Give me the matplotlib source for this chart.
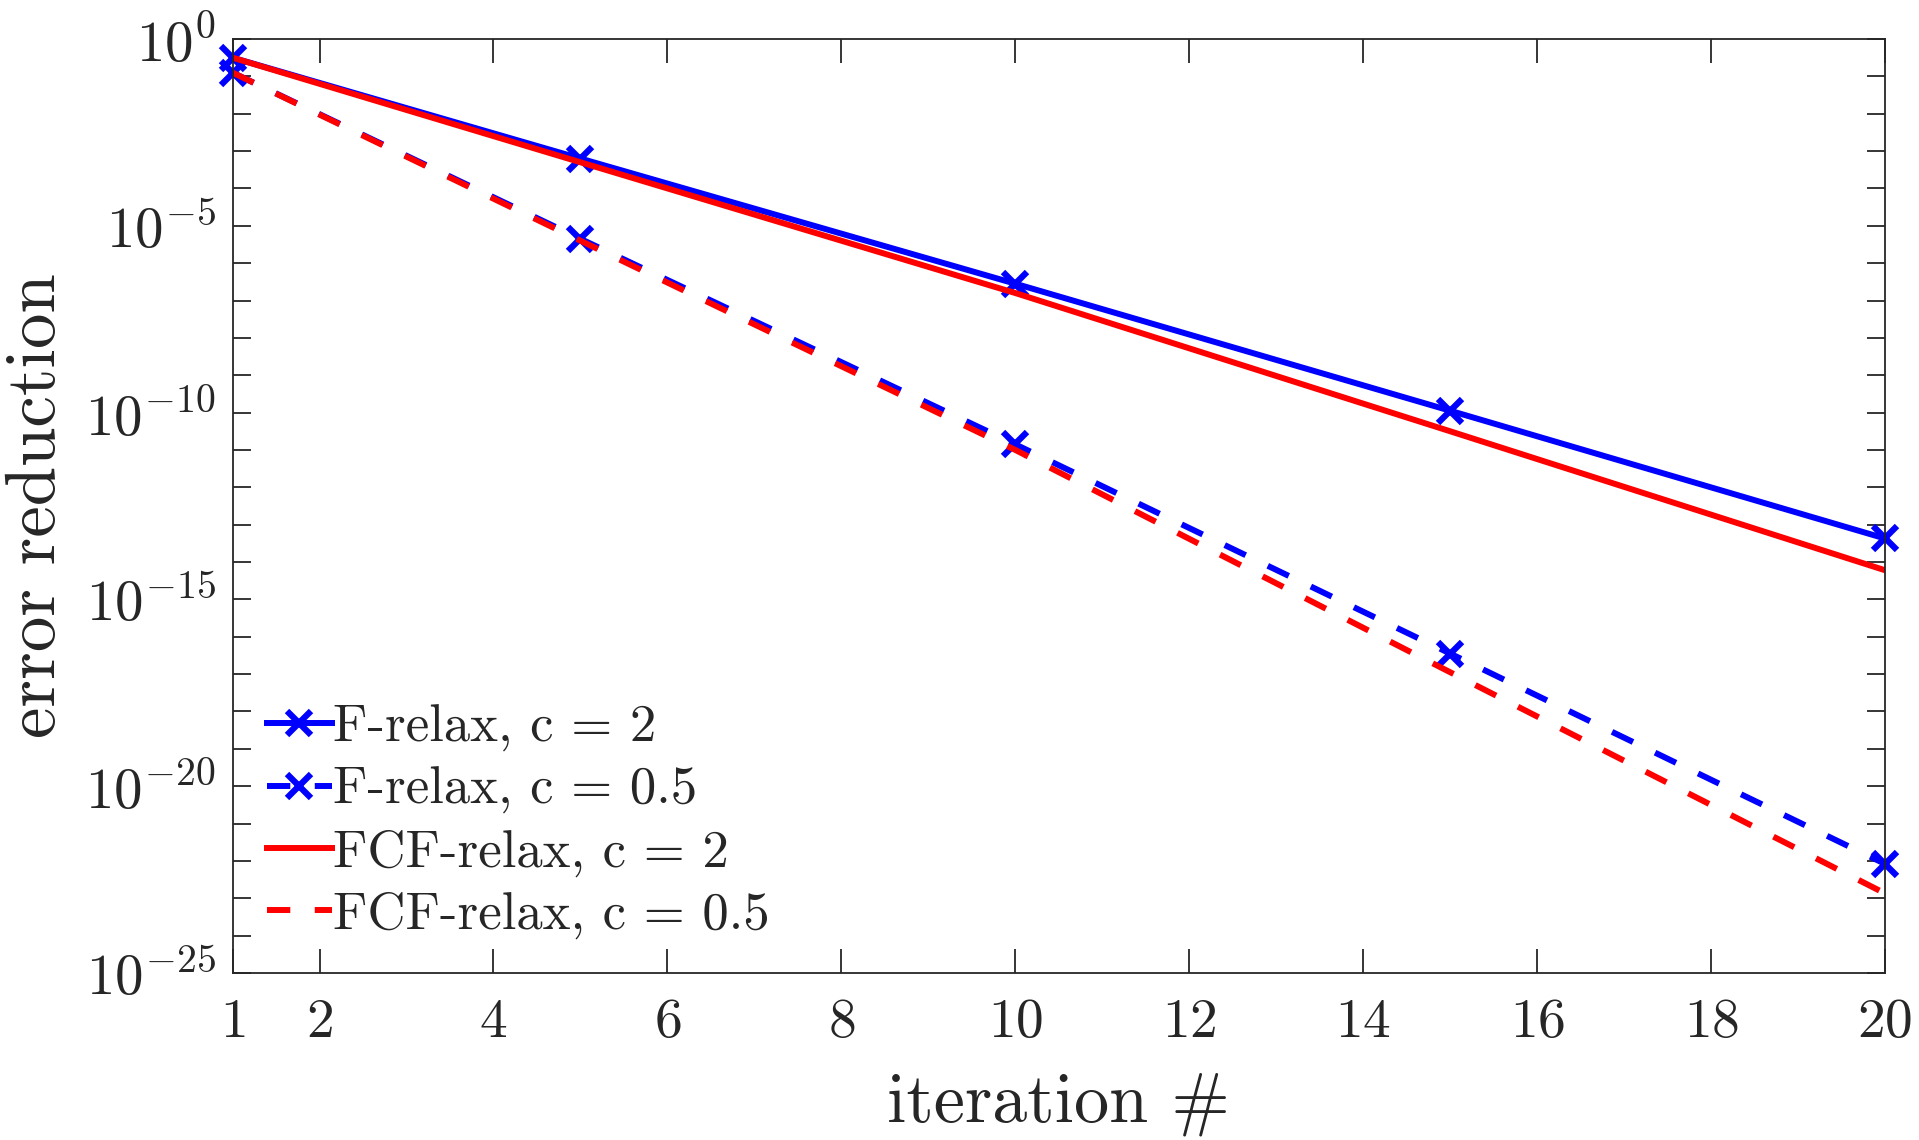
import matplotlib
matplotlib.use('Agg')
import matplotlib.pyplot as plt
import numpy as np
from matplotlib.ticker import FixedLocator, NullFormatter, LogFormatterSciNotation

#==============================================================================
# Data (log10 of the error reduction)
#==============================================================================

iters = [1, 5, 10, 15, 20]
f_c2 = [-0.5, -3.2, -6.55, -9.95, -13.37]
f_c05 = [-0.9, -5.35, -10.85, -16.45, -22.08]
fcf_c2 = [-0.5, -3.3, -6.8, -10.5, -14.22]
fcf_c05 = [-0.9, -5.4, -11.0, -16.95, -22.87]

labels = ['F-relax, c = 2', 'F-relax, c = 0.5',
          'FCF-relax, c = 2', 'FCF-relax, c = 0.5']
xticks = [1, 2, 4, 6, 8, 10, 12, 14, 16, 18, 20]

#==============================================================================
# Plot
#==============================================================================

plt.rcParams['font.family'] = ['cmr10', 'DejaVu Serif']
plt.rcParams['mathtext.fontset'] = 'cm'
plt.rcParams['axes.formatter.use_mathtext'] = True
plt.rcParams['axes.unicode_minus'] = False

dark = '#262626'
lw = 4.3
dash = (3.9, 4.1)

fig = plt.figure(figsize=(19.19, 11.40), dpi=100)
ax = fig.add_axes([0.1212, 0.1465, 0.9823 - 0.1212, 0.9658 - 0.1465])

ax.plot(iters, 10.0**np.array(f_c2), '-', color='#0000ff', lw=lw,
        marker='x', ms=17, mew=4.5, label=labels[0], clip_on=False)
ax.plot(iters, 10.0**np.array(f_c05), color='#0000ff', lw=lw,
        ls=(0, dash), marker='x', ms=17, mew=4.5, label=labels[1],
        clip_on=False)
ax.plot(iters, 10.0**np.array(fcf_c2), '-', color='#ff0000', lw=lw,
        label=labels[2])
ax.plot(iters, 10.0**np.array(fcf_c05), color='#ff0000', lw=lw,
        ls=(0, dash), label=labels[3])

ax.set_yscale('log')
ax.set_xlim(1, 20)
ax.set_ylim(1e-25, 1e0)
ax.xaxis.set_major_locator(FixedLocator(xticks))
ax.yaxis.set_major_locator(FixedLocator([10.0**k for k in range(-25, 1, 5)]))
ax.yaxis.set_major_formatter(LogFormatterSciNotation())
ax.yaxis.set_minor_locator(FixedLocator([10.0**k for k in range(-25, 1)]))
ax.yaxis.set_minor_formatter(NullFormatter())

ax.tick_params(which='both', direction='in', top=True, right=True,
               color=dark, labelcolor=dark, width=1.3)
ax.tick_params(axis='x', which='major', length=17, labelsize=40, pad=18)
ax.tick_params(axis='y', which='both', length=13, labelsize=41, pad=12)
for sp in ax.spines.values():
    sp.set_color(dark)
    sp.set_linewidth(1.3)

ax.set_xlabel('iteration #', fontsize=50.5, color=dark, labelpad=18)
ax.set_ylabel('error reduction', fontsize=51, color=dark, labelpad=12)

leg = ax.legend(loc='lower left', bbox_to_anchor=(0.0, 0.0), frameon=False,
                fontsize=38, handlelength=1.23, handletextpad=0.02,
                labelspacing=0.28, borderaxespad=0.25)
for t in leg.get_texts():
    t.set_color(dark)

fig.savefig('out.png', dpi=100)
